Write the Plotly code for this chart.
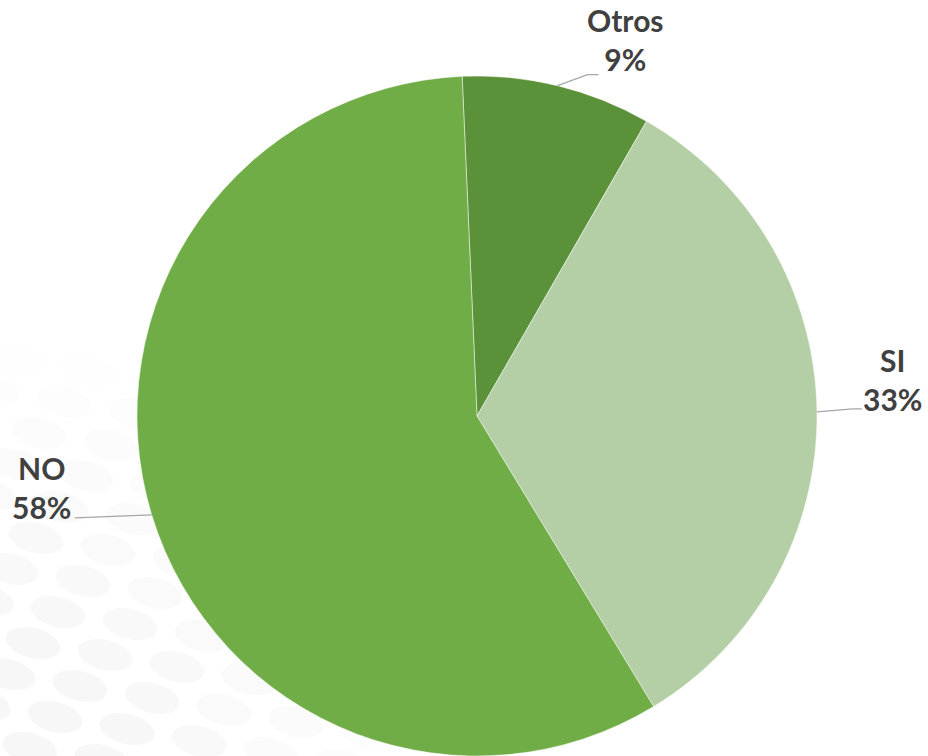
import math
import plotly.graph_objects as go

# data
labels = ["Otros", "SI", "NO"]
values = [9, 33, 58]
colors = ["#5B9139", "#B4CFA6", "#70AD47"]

# layout constants (pixels)
W, H = 928, 756
CX, CY, R = 477, 416, 340
ROTATION = -2.5
# label offsets from slice edge: (elbow dx, elbow dy, end dx, end dy, text dx, text dy)
label_offsets = {
    "Otros": (30, -11, 41, -11, 68, -46),
    "SI": (36, -3, 45, -3, 76, -32),
    "NO": (-77, 3, -77, 3, -110, -27),
}


def to_paper(px, py):
    return px / W, 1 - py / H


def ellipse_path(cx, cy, rx, ry, tilt):
    t = math.radians(tilt)
    pts = []
    for k in range(28):
        a = 2 * math.pi * k / 28
        x = rx * math.cos(a)
        y = ry * math.sin(a)
        px = cx + x * math.cos(t) - y * math.sin(t)
        py = cy + x * math.sin(t) + y * math.cos(t)
        pts.append(to_paper(px, py))
    return "M " + " L ".join(f"{p[0]:.4f} {p[1]:.4f}" for p in pts) + " Z"


shapes = []

# faint dotted background pattern in the lower left
for i in range(-4, 9):
    for j in range(-2, 16):
        ex = 67 + 72 * i - 25 * j
        ey = 545 + 12 * i + 31 * j - 31 * 8
        d = math.hypot(ex, H - ey)
        op = 0.6 * (1 - d / 450)
        if op <= 0.04 or ex < -40 or ey > H + 30:
            continue
        shapes.append(
            dict(
                type="path",
                xref="paper",
                yref="paper",
                path=ellipse_path(ex, ey, 28, 15, 14),
                fillcolor="#EDEDEF",
                opacity=min(op, 0.42),
                line=dict(width=0),
                layer="below",
            )
        )

fig = go.Figure()
fig.add_trace(
    go.Pie(
        labels=labels,
        values=values,
        sort=False,
        direction="clockwise",
        rotation=ROTATION,
        marker=dict(colors=colors, line=dict(color="rgba(255,255,255,0.6)", width=0.8)),
        textinfo="none",
        hoverinfo="label+percent",
        showlegend=False,
        domain=dict(x=[(CX - R) / W, (CX + R) / W], y=[0, 2 * R / H]),
    )
)

total = sum(values)
start = ROTATION
annotations = []
for lab, v in zip(labels, values):
    span = v / total * 360
    mid = math.radians(start + span / 2)
    start += span
    ax_, ay_ = CX + R * math.sin(mid), CY - R * math.cos(mid)
    ex, ey, fx, fy, tx, ty = label_offsets[lab]
    p0 = to_paper(ax_, ay_)
    p1 = to_paper(ax_ + ex, ay_ + ey)
    p2 = to_paper(ax_ + fx, ay_ + fy)
    shapes.append(
        dict(
            type="path",
            xref="paper",
            yref="paper",
            path=f"M {p0[0]} {p0[1]} L {p1[0]} {p1[1]} L {p2[0]} {p2[1]}",
            line=dict(color="#A6A6A6", width=1.3),
        )
    )
    tp = to_paper(ax_ + tx, ay_ + ty)
    annotations.append(
        dict(
            x=tp[0],
            y=tp[1],
            xref="paper",
            yref="paper",
            text=f"<b>{lab}</b><br><b>{v / total * 100:.0f}%</b>",
            showarrow=False,
            xanchor="center",
            yanchor="middle",
            align="center",
            font=dict(family="Lato", size=30, color="#404040"),
        )
    )

fig.update_layout(
    width=W,
    height=H,
    margin=dict(l=0, r=0, t=0, b=0),
    paper_bgcolor="white",
    plot_bgcolor="white",
    shapes=shapes,
    annotations=annotations,
)

fig.write_html(
    "out.html",
    config={"displayModeBar": False},
    post_script="document.body.style.margin='0px';document.body.style.overflow='hidden';",
)
